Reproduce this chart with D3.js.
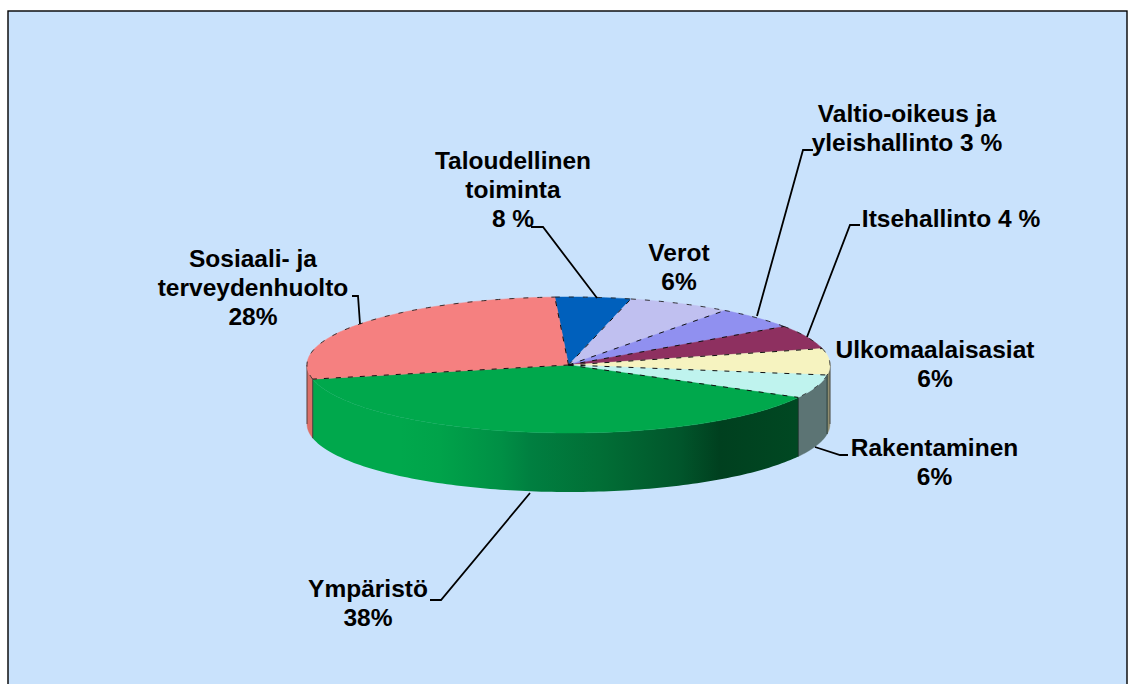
<!DOCTYPE html>
<html><head><meta charset="utf-8">
<script src="https://cdn.jsdelivr.net/npm/d3@7"></script>
<style>html,body{margin:0;padding:0;background:#fff}svg{display:block}</style>
</head><body><svg id="c" width="1132" height="684"></svg>
<script>
// Slice order is clockwise from just left of 12 o'clock, as drawn.
const categories = ["Taloudellinen","Verot","Valtio-oikeus","Itsehallinto","Ulkomaalaisasiat","Rakentaminen","Ympäristö","Sosiaali"];
const drawnShares = [4.67,6.36,5.22,5.69,6.25,5.56,38.75,27.5];
const topColors  = ["#0060bc","#c0c0f0","#9090f0","#8e3060","#f6f3c0","#bff3ee","#00a84c","#f58080"];
const sideColors = ["#003a72","#74748f","#575790","#561d3a","#8f8d6f","#5c7474","#00a84c","#dc7068"];
const labelLines = [
 ["Taloudellinen","toiminta","8 %"],["Verot","6%"],["Valtio-oikeus ja","yleishallinto 3 %"],
 ["Itsehallinto 4 %"],["Ulkomaalaisasiat","6%"],["Rakentaminen","6%"],["Ympäristö","38%"],["Sosiaali- ja","terveydenhuolto","28%"]];

const W=1132,H=684, cx=568.5, cy=365, rx=261.5, ry=68, depth=59;
const labelPos=[[513,169],[679,261],[907,122],[951,227],[935,358],[934.5,456],[368,597],[253,267]];
const leaders=[
 [[531,227],[543,227],[597,298]],null,
 [[813,150],[803,150],[757,316]],
 [[860,225],[850,225],[807,337]],null,
 [[848,455],[840,455],[815,447]],
 [[430,600],[441,600],[530,493]],
 [[352,296],[358,296],[360,324]]];

const svg=d3.select("#c");
const defs=svg.append("defs");
const grad=defs.append("linearGradient").attr("id","gs").attr("gradientUnits","userSpaceOnUse")
  .attr("x1",313).attr("x2",797).attr("y1",0).attr("y2",0);
[[0,"#00a84c"],[0.18,"#00a84c"],[0.26,"#00a34a"],[0.39,"#008f45"],[0.45,"#007f40"],[0.59,"#016f36"],[0.76,"#01552b"],[0.84,"#00401f"],[1,"#004822"]]
 .forEach(s=>grad.append("stop").attr("offset",s[0]).attr("stop-color",s[1]));

svg.append("rect").attr("width",W).attr("height",H).attr("fill","#fff");
svg.append("rect").attr("x",8).attr("y",11).attr("width",1119).attr("height",H).attr("fill","#c9e2fc")
   .attr("stroke","#000").attr("stroke-width",1.4);

const start=-3*Math.PI/180;
const arcs=d3.pie().sort(null).startAngle(start).endAngle(start+2*Math.PI)(drawnShares);
const px=a=>cx+rx*Math.sin(a), py=a=>cy-ry*Math.cos(a);
const samples=(a0,a1)=>{const n=Math.max(4,Math.ceil(Math.abs(a1-a0)/0.02));return d3.range(n+1).map(i=>a0+(a1-a0)*i/n);};
const line=d3.line();

const g=svg.append("g");
arcs.forEach((d,i)=>{
  const a0=Math.max(d.startAngle,Math.PI/2), a1=Math.min(d.endAngle,1.5*Math.PI);
  if(a1<=a0) return;
  const s=samples(a0,a1);
  const pts=s.map(a=>[px(a),py(a)]).concat(s.slice().reverse().map(a=>[px(a),py(a)+depth]));
  const green=categories[i]==="Ympäristö";
  g.append("path").attr("d",line(pts)+"Z")
   .attr("fill",green?"url(#gs)":sideColors[i])
   .attr("stroke",green?"none":sideColors[i]).attr("stroke-width",0.4);
});
arcs.forEach((d,i)=>{
  const a=d.startAngle;
  if(a>Math.PI/2&&a<1.5*Math.PI){
    g.append("line").attr("x1",px(a)).attr("x2",px(a)).attr("y1",py(a)).attr("y2",py(a)+depth)
     .attr("stroke","#1c2c28").attr("stroke-width",0.8);
  }
});
[Math.PI/2,1.5*Math.PI].forEach(a=>{
  g.append("line").attr("x1",px(a)).attr("x2",px(a)).attr("y1",py(a)).attr("y2",py(a)+depth)
   .attr("stroke","#333").attr("stroke-width",0.8);
});

arcs.forEach((d,i)=>{
  const rim=samples(d.startAngle,d.endAngle).map(a=>[px(a),py(a)]);
  g.append("path").attr("d",line([[cx,cy],...rim])+"Z").attr("fill",topColors[i])
   .attr("stroke",topColors[i]).attr("stroke-width",0.5);
});
arcs.forEach((d,i)=>{
  const rim=samples(d.startAngle,d.endAngle).map(a=>[px(a),py(a)]);
  const green=categories[i]==="Ympäristö";
  g.append("path").attr("d",line([[cx,cy],rim[0]])).attr("fill","none")
   .attr("stroke","#111").attr("stroke-width",1).attr("stroke-dasharray","5 7");
  if(!green){
    g.append("path").attr("d",line(rim)).attr("fill","none")
     .attr("stroke","#222").attr("stroke-width",0.9).attr("stroke-dasharray","5 9");
  }
});

leaders.forEach(l=>{ if(l) svg.append("path").attr("d",line(l)).attr("fill","none")
   .attr("stroke","#000").attr("stroke-width",1.8); });

labelLines.forEach((ls,i)=>{
  const t=svg.append("text").attr("text-anchor","middle")
    .attr("font-family","'Liberation Sans',Arial,sans-serif").attr("font-weight","bold")
    .attr("font-size",24.5).attr("fill","#000");
  ls.forEach((s,j)=>t.append("tspan").attr("x",labelPos[i][0]).attr("y",labelPos[i][1]+j*29).text(s));
});
</script></body></html>
